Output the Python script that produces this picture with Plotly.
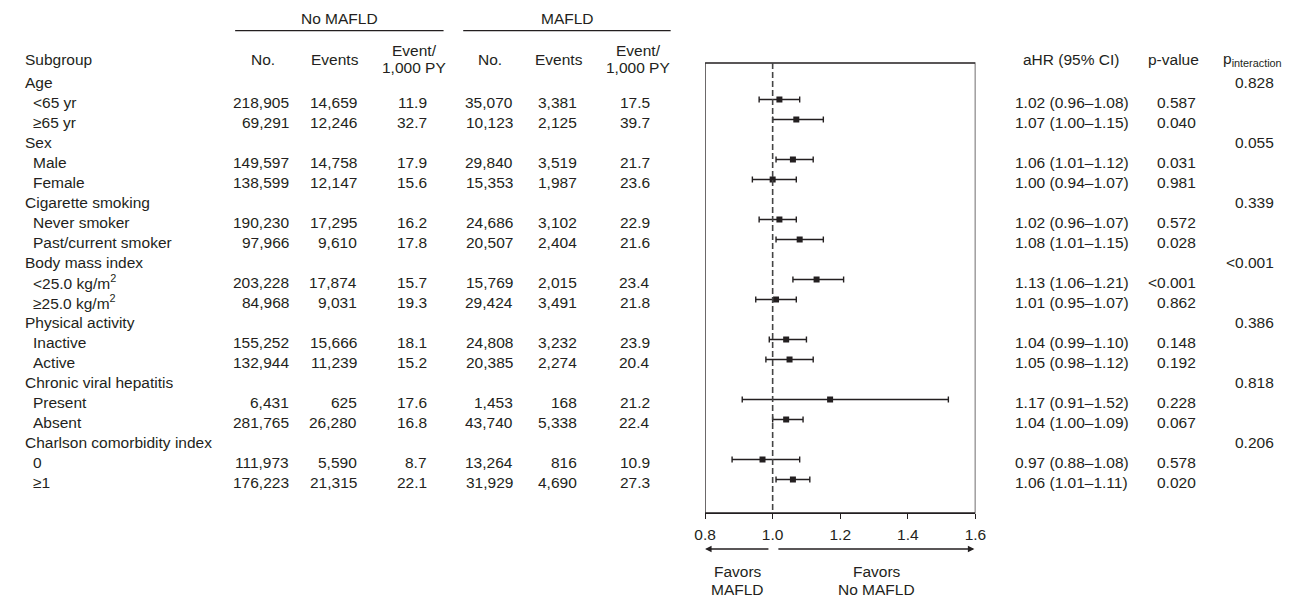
import plotly.graph_objects as go

# ---------------- data ----------------
labels = ["Age", "<65 yr", "≥65 yr",
          "Sex", "Male", "Female",
          "Cigarette smoking", "Never smoker", "Past/current smoker",
          "Body mass index", "<25.0 kg/m<sup>2</sup>", "≥25.0 kg/m<sup>2</sup>",
          "Physical activity", "Inactive", "Active",
          "Chronic viral hepatitis", "Present", "Absent",
          "Charlson comorbidity index", "0", "≥1"]
is_group = [True, False, False] * 7

no_mafld_n = ["", "218,905", "69,291", "", "149,597", "138,599", "", "190,230", "97,966",
              "", "203,228", "84,968", "", "155,252", "132,944", "", "6,431", "281,765",
              "", "111,973", "176,223"]
no_mafld_events = ["", "14,659", "12,246", "", "14,758", "12,147", "", "17,295", "9,610",
                   "", "17,874", "9,031", "", "15,666", "11,239", "", "625", "26,280",
                   "", "5,590", "21,315"]
no_mafld_rate = ["", "11.9", "32.7", "", "17.9", "15.6", "", "16.2", "17.8",
                 "", "15.7", "19.3", "", "18.1", "15.2", "", "17.6", "16.8",
                 "", "8.7", "22.1"]
mafld_n = ["", "35,070", "10,123", "", "29,840", "15,353", "", "24,686", "20,507",
           "", "15,769", "29,424", "", "24,808", "20,385", "", "1,453", "43,740",
           "", "13,264", "31,929"]
mafld_events = ["", "3,381", "2,125", "", "3,519", "1,987", "", "3,102", "2,404",
                "", "2,015", "3,491", "", "3,232", "2,274", "", "168", "5,338",
                "", "816", "4,690"]
mafld_rate = ["", "17.5", "39.7", "", "21.7", "23.6", "", "22.9", "21.6",
              "", "23.4", "21.8", "", "23.9", "20.4", "", "21.2", "22.4",
              "", "10.9", "27.3"]
ahr = [None, 1.02, 1.07, None, 1.06, 1.00, None, 1.02, 1.08, None, 1.13, 1.01,
       None, 1.04, 1.05, None, 1.17, 1.04, None, 0.97, 1.06]
ci_lo = [None, 0.96, 1.00, None, 1.01, 0.94, None, 0.96, 1.01, None, 1.06, 0.95,
         None, 0.99, 0.98, None, 0.91, 1.00, None, 0.88, 1.01]
ci_hi = [None, 1.08, 1.15, None, 1.12, 1.07, None, 1.07, 1.15, None, 1.21, 1.07,
         None, 1.10, 1.12, None, 1.52, 1.09, None, 1.08, 1.11]
p_values = ["", "0.587", "0.040", "", "0.031", "0.981", "", "0.572", "0.028",
            "", "<0.001", "0.862", "", "0.148", "0.192", "", "0.228", "0.067",
            "", "0.578", "0.020"]
p_interaction = ["0.828", "", "", "0.055", "", "", "0.339", "", "", "<0.001", "", "",
                 "0.386", "", "", "0.818", "", "", "0.206", "", ""]
tick_vals = [0.8, 1.0, 1.2, 1.4, 1.6]
tick_text = ["0.8", "1.0", "1.2", "1.4", "1.6"]

# ---------------- layout helpers ----------------
W, H = 1301, 598
ROW0, ROWH = 79.5, 20.0          # pixel y of row 0 and row spacing
FONT = "Liberation Sans, Arial, Helvetica, sans-serif"
FS = 15.5
INK = "#231f20"
TXT_OFF = 0.13                   # text sits slightly lower than the markers


def py2row(py):
    return (py - ROW0) / ROWH


def px(x):
    return x / W


rows = list(range(len(labels)))
fig = go.Figure()

xs, ys, ep, em = [], [], [], []
for i in rows:
    if ahr[i] is not None:
        xs.append(ahr[i])
        ys.append(i)
        ep.append(round(ci_hi[i] - ahr[i], 4))
        em.append(round(ahr[i] - ci_lo[i], 4))

fig.add_trace(go.Scatter(
    x=xs, y=ys, mode="markers",
    marker=dict(symbol="square", size=6, color=INK),
    error_x=dict(type="data", symmetric=False, array=ep, arrayminus=em,
                 thickness=1.4, width=3, color=INK),
    cliponaxis=False, hoverinfo="skip"))

annotations = []


def txt(x, y, text, anchor="left", yref="y", size=FS):
    if not text:
        return
    annotations.append(dict(x=px(x), xref="paper", y=y, yref=yref, text=text,
                            showarrow=False, xanchor=anchor, yanchor="middle",
                            font=dict(family=FONT, size=size, color=INK)))


# row texts
for i in rows:
    y = i + TXT_OFF
    txt(12.5 if is_group[i] else 20.5, y, labels[i], "left")
    txt(285, y, no_mafld_n[i], "right")
    txt(354, y, no_mafld_events[i], "right")
    txt(425, y, no_mafld_rate[i], "right")
    txt(513, y, mafld_n[i], "right")
    txt(578, y, mafld_events[i], "right")
    txt(652, y, mafld_rate[i], "right")
    if ahr[i] is not None:
        txt(1019, y, f"{ahr[i]:.2f} ({ci_lo[i]:.2f}\u2013{ci_hi[i]:.2f})", "left")
    txt(1207, y, p_values[i], "right")
    txt(1287, y, p_interaction[i], "right")

# headers
hy = py2row(57) + TXT_OFF
txt(12.5, hy, "Subgroup", "left")
txt(256, hy, "No.", "center")
txt(330, hy, "Events", "center")
txt(410, py2row(48) + TXT_OFF, "Event/", "center")
txt(410, py2row(65) + TXT_OFF, "1,000 PY", "center")
txt(487, hy, "No.", "center")
txt(557, hy, "Events", "center")
txt(638, py2row(48) + TXT_OFF, "Event/", "center")
txt(638, py2row(65) + TXT_OFF, "1,000 PY", "center")
txt(1078, hy, "aHR (95% CI)", "center")
txt(1182, hy, "p-value", "center")
txt(1231, hy, "p<sub>interaction</sub>", "left")
txt(334, py2row(16) + TXT_OFF, "No MAFLD", "center")
txt(566, py2row(16) + TXT_OFF, "MAFLD", "center")

# favors texts
for xc, lines in [(739, ("Favors", "MAFLD")), (880.5, ("Favors", "No MAFLD"))]:
    for yy, t in zip((569, 587), lines):
        annotations.append(dict(x=0.8 + (xc - 706) / 343.75, xref="x",
                                y=py2row(yy) + TXT_OFF, yref="y",
                                text=t, showarrow=False, xanchor="center",
                                yanchor="middle",
                                font=dict(family=FONT, size=FS, color=INK)))

# arrows
ay = py2row(549)
annotations.append(dict(x=0.8, y=ay, xref="x", yref="y", ax=0.992, ay=ay,
                        axref="x", ayref="y", text="", showarrow=True,
                        arrowhead=2, arrowsize=1, arrowwidth=1.3, arrowcolor=INK))
annotations.append(dict(x=1.597, y=ay, xref="x", yref="y", ax=1.0125, ay=ay,
                        axref="x", ayref="y", text="", showarrow=True,
                        arrowhead=2, arrowsize=1, arrowwidth=1.3, arrowcolor=INK))

shapes = [
    # forest box
    dict(type="rect", xref="x", yref="y", x0=0.8, x1=1.6,
         y0=py2row(63), y1=py2row(513), line=dict(color=INK, width=1.3)),
    # reference line at 1.0
    dict(type="line", xref="x", yref="y", x0=1.0, x1=1.0,
         y0=py2row(63), y1=py2row(513),
         line=dict(color="#444444", width=1.6, dash="6px,3px")),
    # header underlines
    dict(type="line", xref="paper", yref="y", x0=px(228), x1=px(440),
         y0=py2row(30.7), y1=py2row(30.7), line=dict(color=INK, width=1.3)),
    dict(type="line", xref="paper", yref="y", x0=px(460), x1=px(671),
         y0=py2row(30.7), y1=py2row(30.7), line=dict(color=INK, width=1.3)),
]

fig.update_layout(
    width=W, height=H, autosize=False, margin=dict(l=0, r=0, t=0, b=0),
    paper_bgcolor="white", plot_bgcolor="rgba(0,0,0,0)",
    showlegend=False, font=dict(family=FONT, size=FS, color=INK),
    xaxis=dict(domain=[px(706), px(981)], range=[0.8, 1.6], anchor="free",
               position=1 - 513 / H, showline=True, linecolor=INK, linewidth=1.3,
               ticks="outside", ticklen=5, tickwidth=1.3, tickcolor=INK,
               tickvals=tick_vals, ticktext=tick_text, showgrid=False, zeroline=False,
               ticklabelstandoff=2,
               tickfont=dict(family=FONT, size=FS, color=INK), fixedrange=True),
    yaxis=dict(domain=[0, 1], range=[py2row(H), py2row(0)], visible=False,
               showgrid=False, zeroline=False, fixedrange=True),
    annotations=annotations, shapes=shapes,
)

fig.write_html("out.html", config={"displayModeBar": False, "responsive": False},
               post_script="document.body.style.margin='0';document.body.style.overflow='hidden';")
